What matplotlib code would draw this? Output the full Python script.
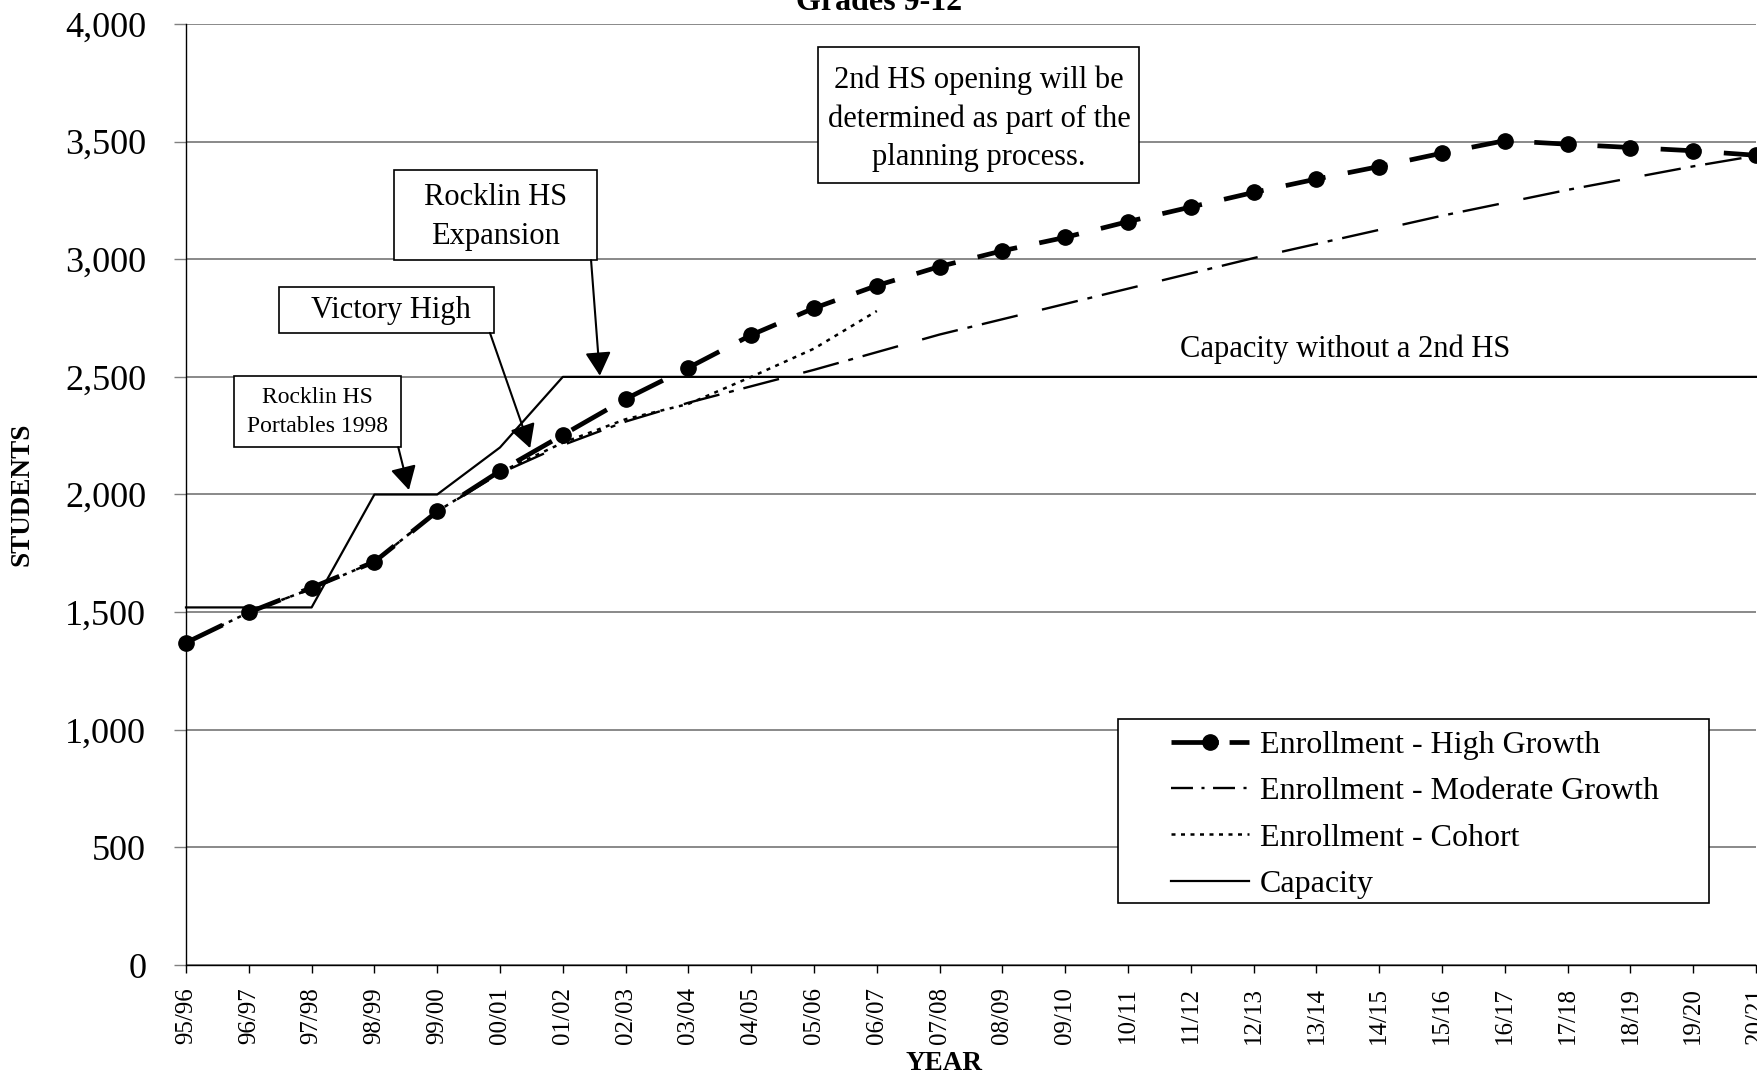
import matplotlib
matplotlib.use('Agg')
import matplotlib.pyplot as plt
from matplotlib.patches import Rectangle
from matplotlib.lines import Line2D
from matplotlib.ticker import FuncFormatter

years = ["95/96", "96/97", "97/98", "98/99", "99/00", "00/01", "01/02", "02/03",
         "03/04", "04/05", "05/06", "06/07", "07/08", "08/09", "09/10", "10/11",
         "11/12", "12/13", "13/14", "14/15", "15/16", "16/17", "17/18", "18/19",
         "19/20", "20/21"]
high_growth = [1370, 1499, 1604, 1714, 1928, 2100, 2253, 2406, 2539, 2678, 2792,
               2888, 2969, 3036, 3093, 3160, 3222, 3284, 3341, 3394, 3451, 3504,
               3489, 3475, 3461, 3442]
moderate_growth = [1370, 1499, 1600, 1714, 1928, 2090, 2210, 2310, 2390, 2460, 2530,
                   2605, 2680, 2745, 2810, 2875, 2940, 3005, 3065, 3125, 3185, 3240,
                   3295, 3345, 3395, 3440]
cohort = [1370, 1499, 1600, 1714, 1928, 2095, 2220, 2320, 2385, 2500, 2620, 2780]
capacity = [1520, 1520, 1520, 2000, 2000, 2200, 2500, 2500, 2500, 2500, 2500,
            2500, 2500, 2500, 2500, 2500, 2500, 2500, 2500, 2500, 2500, 2500,
            2500, 2500, 2500, 2500]
series_labels = ["Enrollment - High Growth", "Enrollment - Moderate Growth",
                 "Enrollment - Cohort", "Capacity"]

plt.rcParams['font.family'] = ['Liberation Serif', 'DejaVu Serif']

fig = plt.figure(figsize=(17.58, 10.78), dpi=100)
ax = fig.add_axes([186 / 1758, 113 / 1078, 1570 / 1758, 941 / 1078])

xs = list(range(len(years)))

hg_style = dict(color='black', lw=3.4, marker='o', markersize=11)
mg_style = dict(color='black', lw=1.7)
co_style = dict(color='black', lw=1.8, ls=(0, (1.6, 2.2)))
ca_style = dict(color='black', lw=1.6)

ax.plot(xs, high_growth, ls=(0, (8.6, 4.8)), zorder=6, clip_on=False, **hg_style)
ax.plot(xs, moderate_growth, ls=(0, (15.6, 10.6, 15.6, 4.2, 2.1, 4.2)),
        zorder=5, clip_on=False, **mg_style)
ax.plot(xs[:len(cohort)], cohort, zorder=5, **co_style)
ax.plot(xs, capacity, zorder=4, clip_on=False, **ca_style)

ax.set_xlim(0, len(years) - 1)
ax.set_ylim(0, 4000)
ax.set_xticks(xs)
ax.set_xticklabels(years, rotation=90, fontsize=18)
ax.set_yticks(range(0, 4001, 500))
ax.yaxis.set_major_formatter(FuncFormatter(lambda v, p: f"{int(v):,}"))
ax.tick_params(axis='y', labelsize=26, length=8.6, width=1, color='#808080', pad=20)
ax.tick_params(axis='x', length=6, width=1, color='black', pad=10)
ax.yaxis.grid(True, color='#808080', lw=1.3)
ax.set_axisbelow(True)
for s in ['top', 'right']:
    ax.spines[s].set_visible(False)
for s in ['left', 'bottom']:
    ax.spines[s].set_color('black')
    ax.spines[s].set_linewidth(1)

# Title (partly cut off at the top, as in the reference)
fig.text(0.5, (1078 - 10) / 1078, "Grades 9-12", ha='center', va='baseline',
         fontsize=23, fontweight='bold')
fig.text(22 / 1758, (1078 - 494) / 1078, "STUDENTS", rotation=90, ha='center',
         va='center', fontsize=19.5, fontweight='bold')
fig.text(944 / 1758, (1078 - 1063) / 1078, "YEAR", ha='center', va='center',
         fontsize=19.5, fontweight='bold')


def note_box(x0, x1, y0, y1):
    ax.add_patch(Rectangle((x0, y0), x1 - x0, y1 - y0, fc='white', ec='black',
                           lw=1.2, zorder=7, clip_on=False))


note_box(10.07, 15.18, 3325, 3902)
ax.text(12.63, 3598, "2nd HS opening will be\ndetermined as part of the\nplanning process.",
        ha='center', va='center', fontsize=22, zorder=8, linespacing=1.42)
note_box(3.32, 6.54, 2996, 3378)
ax.text(4.93, 3179, "Rocklin HS\nExpansion", ha='center', va='center', fontsize=22,
        zorder=8, linespacing=1.45)
note_box(1.48, 4.91, 2687, 2882)
ax.text(3.27, 2781, "Victory High", ha='center', va='center', fontsize=22, zorder=8)
note_box(0.77, 3.43, 2201, 2505)
ax.text(2.09, 2351, "Rocklin HS\nPortables 1998", ha='center', va='center',
        fontsize=17, zorder=8, linespacing=1.55)
ax.text(18.46, 2617, "Capacity without a 2nd HS", ha='center', va='center',
        fontsize=22, zorder=8)

arrow = dict(arrowstyle='-|>,head_length=0.4,head_width=0.22', color='black',
             lw=1.5, mutation_scale=36, shrinkA=0, shrinkB=0)
ax.annotate("", xy=(6.59, 2505), xytext=(6.45, 2996), arrowprops=arrow, zorder=9)
ax.annotate("", xy=(5.48, 2197), xytext=(4.84, 2687), arrowprops=arrow, zorder=9)
ax.annotate("", xy=(3.55, 2019), xytext=(3.38, 2201), arrowprops=arrow, zorder=9)

# Legend with its own frame
lx0, lx1 = (1118 - 186) / 1570, (1709 - 186) / 1570
ly0, ly1 = (965 - 903) / 941, (965 - 719) / 941
ax.add_patch(Rectangle((lx0, ly0), lx1 - lx0, ly1 - ly0, transform=ax.transAxes,
                       fc='white', ec='black', lw=1.2, zorder=9, clip_on=False))
handles = [
    Line2D([], [], ls=(0, (10.0, 2.3)), **hg_style),
    Line2D([], [], ls=(0, (9.3, 3.6, 1.3, 3.6)), **mg_style),
    Line2D([], [], **co_style),
    Line2D([], [], **ca_style),
]
leg = ax.legend(handles, series_labels, loc='center left',
                bbox_to_anchor=((1171 - 186) / 1570, (ly0 + ly1) / 2 - 0.004),
                frameon=False, fontsize=23, handlelength=2.45, handletextpad=0.33,
                labelspacing=0.53, borderpad=0, borderaxespad=0, numpoints=1)
leg.set_zorder(10)

fig.savefig("out.png", dpi=100)
